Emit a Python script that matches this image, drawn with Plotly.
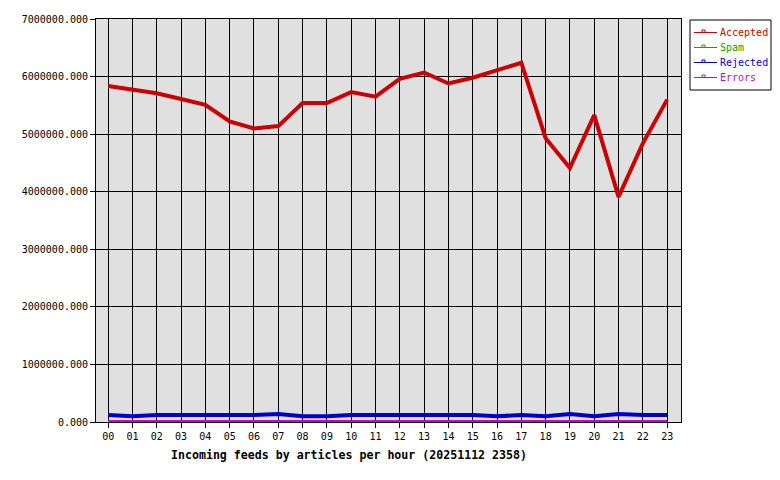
import plotly.graph_objects as go

hours = ["%02d" % h for h in range(24)]

accepted = [5836000, 5780000, 5710000, 5610000, 5510000, 5220000, 5100000, 5140000,
            5540000, 5540000, 5730000, 5650000, 5960000, 6070000, 5880000, 5980000,
            6110000, 6240000, 4930000, 4410000, 5330000, 3910000, 4840000, 5600000]
spam = [0] * 24
rejected = [120000, 100000, 120000, 120000, 120000, 120000, 120000, 140000,
            100000, 100000, 120000, 120000, 120000, 120000, 120000, 120000,
            100000, 120000, 100000, 140000, 100000, 140000, 120000, 120000]
errors = [0] * 24

series = [
    ("Accepted", accepted, "#cc0000"),
    ("Spam", spam, "#00aa00"),
    ("Rejected", rejected, "#0000cc"),
    ("Errors", errors, "#cc00cc"),
]

FONT = "DejaVu Sans Mono"

# plot area in pixels
L, R, T, B = 96, 681, 19, 422
W, H = 780, 480


def px(x):
    return (x - L) / (R - L)


def py(y):
    return (B - y) / (B - T)


fig = go.Figure()

for name, vals, col in series:
    fig.add_trace(go.Scatter(
        x=hours, y=vals, mode="lines", name=name,
        line=dict(color=col, width=4),
        showlegend=False,
    ))

# hand made legend box like the original
shapes = [dict(type="rect", xref="paper", yref="paper",
               x0=px(690), x1=px(771), y0=py(20), y1=py(90),
               line=dict(color="black", width=1), fillcolor="white")]
annotations = []
for i, (name, vals, col) in enumerate(series):
    ly = 32.5 + 15 * i
    shapes.append(dict(type="line", xref="paper", yref="paper",
                       x0=px(694), x1=px(717), y0=py(ly), y1=py(ly),
                       line=dict(color=col, width=1)))
    shapes.append(dict(type="rect", xref="paper", yref="paper",
                       x0=px(702), x1=px(705), y0=py(ly - 2.5), y1=py(ly),
                       line=dict(color=col, width=1)))
    annotations.append(dict(
        x=px(718), y=py(ly), xref="paper", yref="paper",
        xanchor="left", yanchor="middle", text=name, showarrow=False,
        font=dict(family=FONT, size=10, color=col),
    ))

annotations.append(dict(
    x=px(348.5), y=py(446), xref="paper", yref="paper",
    xanchor="center", yanchor="top",
    text="<b>Incoming feeds by articles per hour (20251112 2358)</b>",
    showarrow=False, font=dict(family=FONT, size=11.6, color="black"),
))

fig.update_layout(
    width=W, height=H,
    margin=dict(l=L, r=W - R, t=T, b=H - B, autoexpand=False),
    paper_bgcolor="white",
    plot_bgcolor="#e0e0e0",
    font=dict(family=FONT, size=10, color="black"),
    showlegend=False,
    xaxis=dict(
        type="category", range=[-0.5, 23.57],
        showgrid=True, gridcolor="black", gridwidth=1,
        showline=True, linecolor="black", linewidth=1, mirror=True,
        ticks="outside", ticklen=5, tickcolor="black",
        zeroline=False,
    ),
    yaxis=dict(
        range=[0, 7000000], dtick=1000000, tickformat=".3f",
        showgrid=True, gridcolor="black", gridwidth=1,
        showline=True, linecolor="black", linewidth=1, mirror=True,
        ticks="outside", ticklen=5, tickcolor="black",
        zeroline=False,
    ),
    shapes=shapes,
    annotations=annotations,
)

fig.write_html("out.html", config={"displayModeBar": False},
               post_script="document.body.style.margin='0px';")
